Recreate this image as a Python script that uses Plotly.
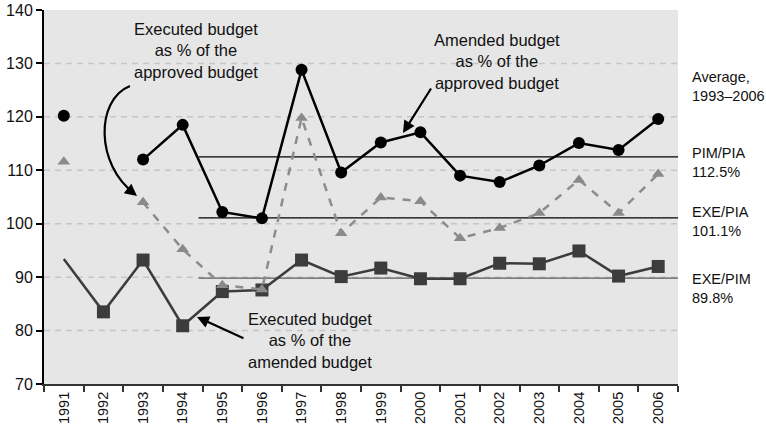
import plotly.graph_objects as go

# Budget execution ratios, 1991-2006 (percent)
years = [str(y) for y in range(1991, 2007)]
amended_vs_approved = [120.2, None, 112.0, 118.5, 102.2, 101.0, 128.8, 109.6,
                       115.2, 117.1, 109.0, 107.8, 110.9, 115.1, 113.8, 119.6]
executed_vs_approved = [111.6, None, 104.0, 95.2, 88.5, 87.7, 119.8, 98.2,
                        104.9, 104.2, 97.3, 99.2, 102.0, 108.2, 102.0, 109.3]
executed_vs_amended = [93.4, 83.5, 93.2, 80.9, 87.3, 87.6, 93.2, 90.1,
                       91.7, 89.7, 89.7, 92.6, 92.5, 94.9, 90.2, 92.0]

# 1993-2006 averages
avg_labels = ["PIM/PIA", "EXE/PIA", "EXE/PIM"]
avg_values = [112.5, 101.1, 89.8]
avg_colors = ["#000000", "#000000", "#5a5a5a"]
avg_start = 3.4  # category position where the average lines begin

y_ticks = [70, 80, 90, 100, 110, 120, 130, 140]
grid_vals = [80, 90, 100, 110, 120, 130]

FONT = "Liberation Sans, Arial, sans-serif"
INK = "#111111"

fig = go.Figure()

# Executed as % of amended (first point drawn without a marker)
sq_sizes = [0] + [13] * (len(years) - 1)
fig.add_trace(go.Scatter(
    x=years, y=executed_vs_amended, mode="lines+markers",
    line=dict(color="#3c3c3c", width=2.5),
    marker=dict(symbol="square", size=sq_sizes, color="#3c3c3c", opacity=1,
                line=dict(width=0)),
    showlegend=False, hoverinfo="skip"))

# Executed as % of approved
fig.add_trace(go.Scatter(
    x=years, y=executed_vs_approved, mode="lines+markers",
    line=dict(color="#8c8c8c", width=2.5, dash="8px,8px"),
    marker=dict(symbol="triangle-up", size=11, color="#8a8a8a", line=dict(width=0)),
    showlegend=False, hoverinfo="skip"))

# Amended as % of approved
fig.add_trace(go.Scatter(
    x=years, y=amended_vs_approved, mode="lines+markers",
    line=dict(color="#000000", width=2.5),
    marker=dict(symbol="circle", size=12, color="#000000", line=dict(width=0)),
    showlegend=False, hoverinfo="skip"))

shapes = []
for g in grid_vals:
    shapes.append(dict(type="line", xref="paper", x0=0, x1=1, yref="y", y0=g, y1=g,
                       line=dict(color="#c6c6c6", width=1.5, dash="6px,5px"),
                       layer="below"))
for v, c in zip(avg_values, avg_colors):
    shapes.append(dict(type="line", xref="x", x0=avg_start, x1=len(years) - 0.5,
                       yref="y", y0=v, y1=v,
                       line=dict(color=c, width=1.3), layer="below"))

# Curved pointer to the executed/approved series
shapes.append(dict(type="path", xref="paper", yref="paper",
                   path="M 0.1356 0.7968 C 0.0804 0.7594, 0.0820 0.5856, 0.1420 0.5107",
                   line=dict(color="#000000", width=2.2)))
fig.update_layout(shapes=shapes)

ann = []
text_font = dict(family=FONT, size=16.5, color=INK)
centered = dict(xref="paper", yref="paper", showarrow=False, align="center",
                xanchor="center", yanchor="middle", font=text_font)
ann.append(dict(x=0.2397, y=0.893,
                text="Executed budget<br>as % of the<br>approved budget", **centered))
ann.append(dict(x=0.7145, y=0.8636,
                text="Amended budget<br>as % of the<br>approved budget", **centered))
ann.append(dict(x=0.4196, y=0.115,
                text="Executed budget<br>as % of the<br>amended budget", **centered))

# Arrow heads / pointers
arrow_style = dict(showarrow=True, arrowhead=2, arrowsize=1.1, arrowwidth=2.2,
                   arrowcolor="#000000", text="", standoff=0)
ann.append(dict(xref="paper", yref="paper", x=0.1467, y=0.5027, ax=-10, ay=-8, **arrow_style))
ann.append(dict(xref="paper", yref="paper", x=0.5662, y=0.6711, ax=29, ay=-46, **arrow_style))
ann.append(dict(xref="paper", yref="paper", x=0.2413, y=0.1791, ax=48, ay=22, **arrow_style))

# Right-hand labels
side_font = dict(family=FONT, size=14.5, color=INK)
side = dict(xref="paper", yref="paper", x=1.019, xanchor="left", yanchor="middle",
            showarrow=False, align="left", font=side_font)
ann.append(dict(y=0.7955, text="Average,<br>1993–2006", **side))
side_y = [0.5922, 0.4345, 0.2553]
for lab, v, yy in zip(avg_labels, avg_values, side_y):
    ann.append(dict(y=yy, text=f"{lab}<br>{v:.1f}%", **side))
fig.update_layout(annotations=ann)

fig.update_layout(
    width=766, height=426,
    margin=dict(l=44, r=88, t=10, b=42, autoexpand=False),
    paper_bgcolor="#ffffff", plot_bgcolor="#e6e6e6",
    font=dict(family=FONT, size=15, color=INK),
    xaxis=dict(type="category", range=[-0.5, len(years) - 0.5], automargin=False,
               showgrid=False, showline=True, linecolor="#333333", linewidth=2,
               ticks="outside", tickson="boundaries", ticklen=6, tickwidth=2,
               tickcolor="#333333", tickangle=-90, tickfont=dict(size=14.5),
               fixedrange=True),
    yaxis=dict(range=[70, 140], tickvals=y_ticks, showgrid=False, zeroline=False,
               automargin=False,
               showline=True, linecolor="#000000", linewidth=2,
               ticks="outside", ticklen=6, tickwidth=2, tickcolor="#000000",
               tickfont=dict(size=16), fixedrange=True),
)

fig.write_html("out.html")
